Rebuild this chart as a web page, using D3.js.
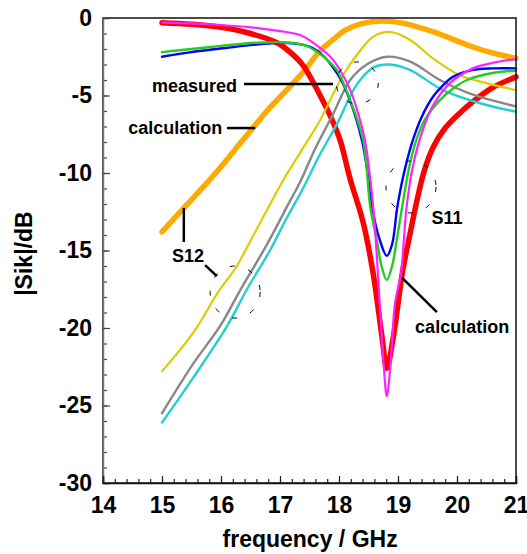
<!DOCTYPE html>
<html>
<head>
<meta charset="utf-8">
<script src="https://cdn.jsdelivr.net/npm/d3@7"></script>
<style>
  body { margin: 0; background: #fff; }
  svg { font-family: "Liberation Sans", Arial, Helvetica, sans-serif; font-weight: bold; }
</style>
</head>
<body>
<div id="chart"></div>
<script>
// frequency in GHz, |Sik| in dB
const calcS12 = [[15,-13.8],[15.36,-12.3],[15.7,-10.9],[16,-9.6],[16.3,-8.2],[16.54,-7.1],[16.8,-5.9],[17.05,-4.9],[17.39,-3.5],[17.68,-2.1],[17.9,-1.4],[18.1,-0.8],[18.4,-0.35],[18.75,-0.19],[19.1,-0.35],[19.6,-0.9],[20.27,-1.87],[20.6,-2.25],[21,-2.6]];
const calcS11 = [[15,-0.3],[15.5,-0.4],[16,-0.6],[16.5,-1.0],[16.95,-1.6],[17.2,-2.3],[17.4,-3.1],[17.68,-5.0],[17.85,-6.3],[18.02,-7.9],[18.19,-10.4],[18.41,-13.2],[18.58,-16.5],[18.73,-20.6],[18.81,-22.6],[18.92,-20.6],[19.08,-16.3],[19.2,-14.0],[19.32,-11.8],[19.45,-9.8],[19.6,-8.3],[19.8,-7.1],[20.0,-6.3],[20.27,-5.4],[20.6,-4.5],[21,-3.8]];
const measS12a = [[15,-22.8],[15.53,-20.3],[15.95,-17.7],[16.27,-16.0],[16.44,-14.8],[16.75,-12.6],[17.05,-10.5],[17.34,-8.7],[17.68,-6.6],[17.9,-4.9],[18.1,-3.5],[18.3,-2.4],[18.58,-1.2],[18.86,-0.9],[19.2,-1.4],[19.59,-2.6],[20.05,-3.7],[20.5,-4.2],[21,-4.65]];
const measS12b = [[15,-25.5],[15.53,-22.3],[15.98,-19.9],[16.32,-17.6],[16.78,-14.6],[17.17,-11.8],[17.34,-10.6],[17.6,-8.4],[17.9,-6.2],[18.19,-4.0],[18.47,-3.0],[18.81,-2.5],[19.2,-2.8],[19.71,-4.0],[20.27,-4.95],[21,-5.7]];
const measS12c = [[15,-26.1],[15.53,-23.2],[16.1,-19.9],[16.44,-17.5],[16.83,-15.0],[17.1,-13.0],[17.39,-11.0],[17.65,-9.0],[17.97,-6.8],[18.3,-4.3],[18.58,-3.2],[18.86,-3.0],[19.2,-3.35],[19.76,-4.65],[20.39,-5.5],[21,-6.05]];
const measS11a = [[15,-2.5],[15.5,-2.2],[15.93,-2.0],[16.5,-1.75],[17.05,-1.6],[17.35,-1.7],[17.56,-1.95],[17.75,-2.5],[17.9,-3.2],[18.05,-4.1],[18.24,-5.9],[18.39,-7.9],[18.47,-9.6],[18.56,-12.2],[18.69,-14.3],[18.81,-15.35],[18.9,-14.6],[18.98,-12.4],[19.03,-11.3],[19.12,-9.7],[19.25,-7.9],[19.4,-6.4],[19.59,-5.1],[19.75,-4.4],[19.93,-3.8],[20.27,-3.35],[20.6,-3.25],[21,-3.25]];
const measS11b = [[15,-2.2],[15.5,-2.0],[16,-1.8],[16.6,-1.6],[17.17,-1.6],[17.45,-1.8],[17.63,-2.2],[17.8,-2.7],[17.97,-3.4],[18.19,-5.3],[18.41,-7.9],[18.53,-12.2],[18.64,-14.3],[18.72,-16.0],[18.81,-16.9],[18.9,-16.0],[18.98,-14.3],[19.07,-12.2],[19.18,-9.8],[19.29,-8.1],[19.45,-6.6],[19.71,-5.3],[19.95,-4.5],[20.17,-4.0],[20.6,-3.55],[21,-3.4]];
const measS11c = [[15,-0.3],[15.5,-0.35],[16,-0.45],[16.5,-0.6],[17,-0.85],[17.34,-1.1],[17.6,-1.7],[17.9,-2.7],[18.19,-4.65],[18.35,-6.5],[18.44,-7.9],[18.58,-12.2],[18.69,-18.4],[18.76,-22.5],[18.81,-24.4],[18.87,-22.5],[18.95,-18.4],[19.05,-16.5],[19.1,-14.3],[19.14,-12.4],[19.24,-9.8],[19.34,-8.2],[19.46,-6.8],[19.6,-5.6],[19.88,-4.2],[20.27,-3.25],[20.6,-2.9],[21,-2.65]];

const xTicks = [14, 15, 16, 17, 18, 19, 20, 21];
const yTicks = [0, -5, -10, -15, -20, -25, -30];

const W = 527, H = 554;
const margin = { top: 18, left: 103, right: 11, bottom: 71 };
const width = W - margin.left - margin.right;
const height = H - margin.top - margin.bottom;

const svg = d3.select("#chart").append("svg")
  .attr("width", W).attr("height", H);
const g = svg.append("g").attr("transform", `translate(${margin.left},${margin.top})`);

const x = d3.scaleLinear().domain([14, 21]).range([0, width]);
const y = d3.scaleLinear().domain([-30, 0]).range([height, 0]);

// curves, thick calculations first
const series = [
  { data: calcS12, color: "#ffaa00", w: 5.5 },
  { data: calcS11, color: "#ff0000", w: 5.5 },
  { data: measS12a, color: "#dccc00", w: 2.2 },
  { data: measS12b, color: "#888888", w: 2.4 },
  { data: measS12c, color: "#22cfd2", w: 2.4 },
  { data: measS11a, color: "#0000ff", w: 2.4 },
  { data: measS11b, color: "#22cc22", w: 2.4 },
  { data: measS11c, color: "#ff22ff", w: 2.2 }
];

const line = d3.line()
  .x(d => x(d[0]))
  .y(d => y(d[1]))
  .curve(d3.curveCatmullRom.alpha(0.5));

g.selectAll(".curve").data(series).enter().append("path")
  .attr("class", "curve")
  .attr("fill", "none")
  .attr("stroke", d => d.color)
  .attr("stroke-width", d => d.w)
  .attr("stroke-linecap", "round")
  .attr("d", d => line(d.data));

// frame
g.append("rect")
  .attr("width", width).attr("height", height)
  .attr("fill", "none").attr("stroke", "#111").attr("stroke-width", 1.5);

// minor ticks
g.append("g")
  .call(d3.axisLeft(y).tickValues(d3.range(-30, 1, 1)).tickSize(-4).tickFormat(""))
  .call(a => a.select(".domain").remove())
  .selectAll("line").attr("stroke", "#444").attr("stroke-width", 1.2);
g.append("g").attr("transform", `translate(0,${height})`)
  .call(d3.axisBottom(x).tickValues(d3.range(14, 21.01, 0.2)).tickSize(-4).tickFormat(""))
  .call(a => a.select(".domain").remove())
  .selectAll("line").attr("stroke", "#222").attr("stroke-width", 1.2);

// major ticks + labels (plain hyphen as in the original)
const yAxis = g.append("g")
  .call(d3.axisLeft(y).tickValues(yTicks).tickSize(-7).tickPadding(11).tickFormat(d => String(d)));
yAxis.select(".domain").attr("stroke", "#777").attr("stroke-width", 1.5);
yAxis.selectAll("line").attr("stroke", "#444").attr("stroke-width", 1.2);
yAxis.selectAll("text").attr("font-size", 23).attr("font-weight", "bold").attr("fill", "#000")
  .attr("font-family", "'Liberation Sans', Arial, sans-serif");

const xAxis = g.append("g").attr("transform", `translate(0,${height})`)
  .call(d3.axisBottom(x).tickValues(xTicks).tickSize(-7).tickPadding(14).tickFormat(d => String(d)));
xAxis.select(".domain").attr("stroke", "#111").attr("stroke-width", 1.5);
xAxis.selectAll("line").attr("stroke", "#222").attr("stroke-width", 1.2);
xAxis.selectAll("text").attr("font-size", 23).attr("font-weight", "bold").attr("fill", "#000")
  .attr("font-family", "'Liberation Sans', Arial, sans-serif");

// axis titles
svg.append("text")
  .attr("x", margin.left + x(17.51)).attr("y", 547)
  .attr("text-anchor", "middle").attr("font-size", 23)
  .text("frequency / GHz");
svg.append("text")
  .attr("transform", `translate(32,${margin.top + y(-15.2)}) rotate(-90)`)
  .attr("text-anchor", "middle").attr("font-size", 23)
  .text("|Sik|/dB");

// annotations (data coordinates)
const labels = [
  { t: "measured", f: 16.27, v: -4.8, anchor: "end" },
  { t: "calculation", f: 16.02, v: -7.5, anchor: "end" },
  { t: "S12", f: 15.44, v: -15.75, anchor: "middle" },
  { t: "S11", f: 19.83, v: -13.3, anchor: "middle" },
  { t: "calculation", f: 19.29, v: -20.3, anchor: "start" }
];
const leaders = [
  [16.39, -4.26, 17.9, -4.26],
  [16.1, -7.1, 16.58, -7.1],
  [15.37, -12.26, 15.37, -14.45],
  [15.73, -15.94, 15.93, -16.65],
  [19.07, -16.77, 19.66, -18.97]
];
const rings = [
  { f: 16.24, v: -17.68, rx: 25, ry: 26 },
  { f: 18.31, v: -4.19, rx: 21, ry: 21 },
  { f: 19.22, v: -10.9, rx: 25, ry: 26 }
];

g.selectAll(".lbl").data(labels).enter().append("text")
  .attr("class", "lbl")
  .attr("x", d => x(d.f)).attr("y", d => y(d.v))
  .attr("text-anchor", d => d.anchor)
  .attr("font-size", 18)
  .text(d => d.t);

g.selectAll(".leader").data(leaders).enter().append("line")
  .attr("class", "leader")
  .attr("x1", d => x(d[0])).attr("y1", d => y(d[1]))
  .attr("x2", d => x(d[2])).attr("y2", d => y(d[3]))
  .attr("stroke", "#000").attr("stroke-width", 2.5);

g.selectAll(".ring").data(rings).enter().append("ellipse")
  .attr("class", "ring")
  .attr("cx", d => x(d.f)).attr("cy", d => y(d.v))
  .attr("rx", d => d.rx).attr("ry", d => d.ry)
  .attr("fill", "none").attr("stroke", "#000").attr("stroke-width", 1)
  .attr("stroke-dasharray", "5 14");
</script>
</body>
</html>
